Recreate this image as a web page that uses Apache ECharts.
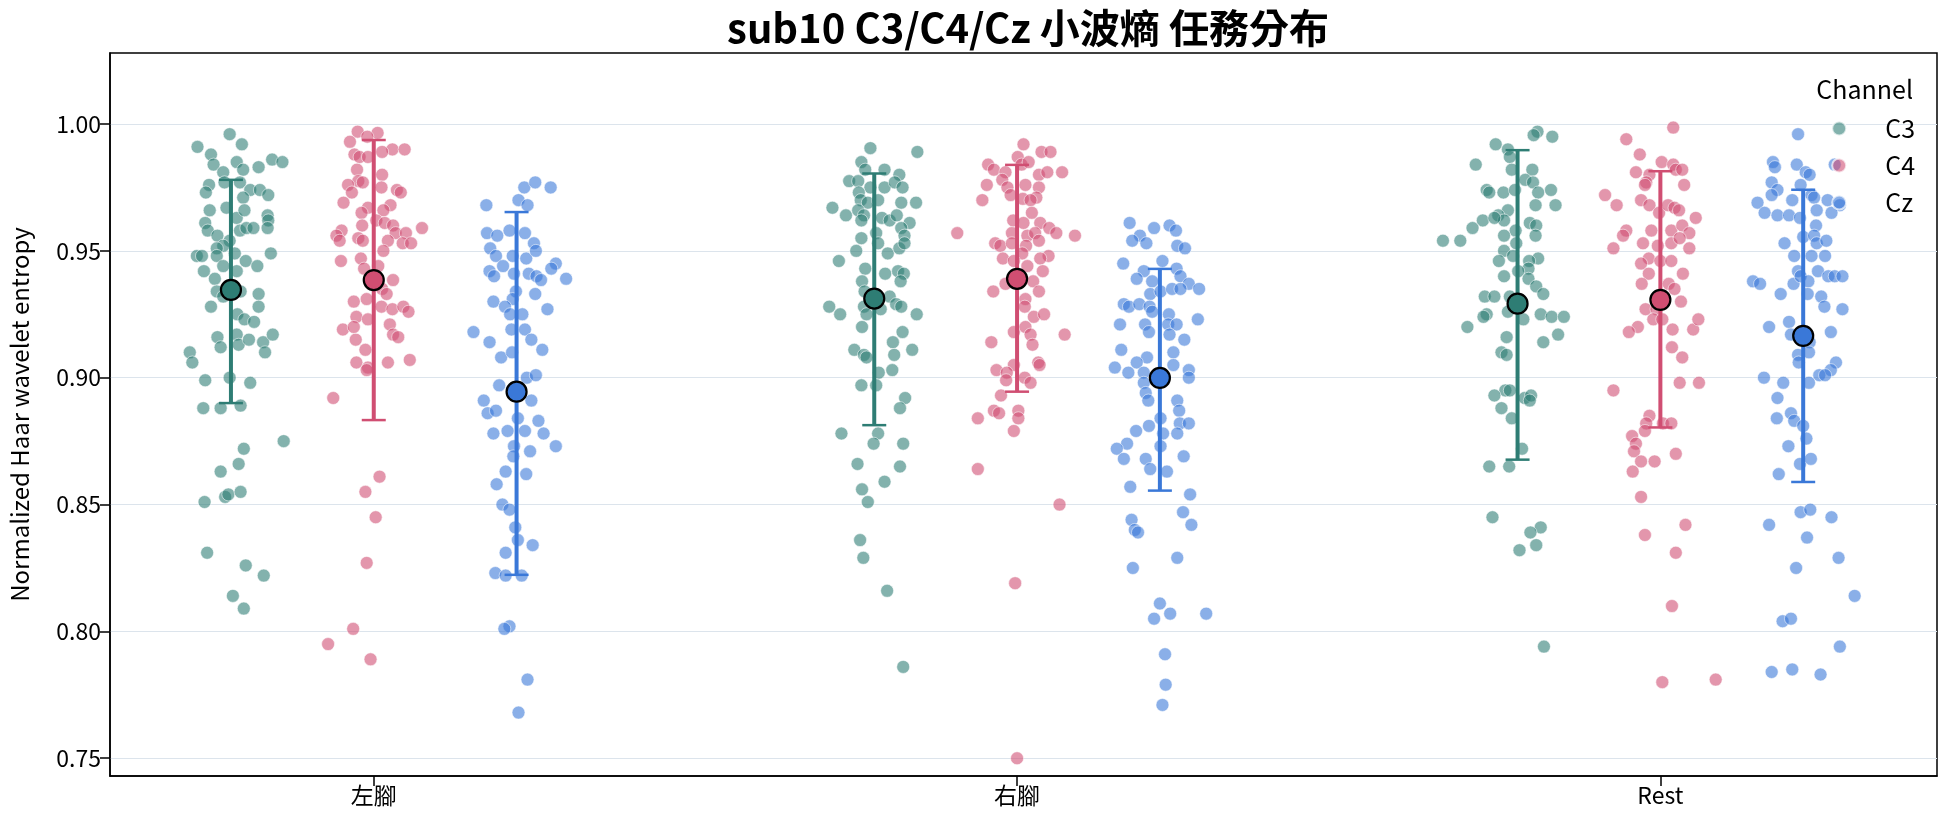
<!DOCTYPE html>
<html>
<head>
<meta charset="utf-8">
<script src="https://cdn.jsdelivr.net/npm/echarts@6/dist/echarts.min.js"></script>
<style>
  html, body { margin: 0; padding: 0; background: #fff; }
  #chart-box { width: 1944px; height: 827px; }
</style>
</head>
<body>
<div id="chart-box"></div>
<script>
const categories = ['左腳', '右腳', 'Rest'];
const channels = ['C3', 'C4', 'Cz'];
const colors = ['#2e7d74', '#d04e72', '#3a78d8'];
const yTicks = [0.75, 0.80, 0.85, 0.90, 0.95, 1.00];

// [jitter, value]
const leftC3 = [[-0.002,0.996],[-0.052,0.991],[0.017,0.992],[-0.031,0.988],[-0.027,0.984],[0.009,0.985],[0.019,0.982],[-0.012,0.981],[0.043,0.983],[0.064,0.986],[0.080,0.985],[-0.034,0.976],[-0.039,0.973],[-0.010,0.977],[0.014,0.977],[0.030,0.974],[0.045,0.974],[0.058,0.972],[0.019,0.971],[-0.033,0.966],[-0.007,0.967],[0.009,0.963],[0.021,0.966],[0.057,0.964],[0.058,0.962],[-0.040,0.961],[-0.036,0.958],[-0.021,0.956],[0.014,0.958],[0.024,0.959],[0.035,0.959],[0.057,0.959],[-0.002,0.954],[-0.012,0.952],[-0.022,0.951],[-0.053,0.948],[-0.045,0.948],[-0.022,0.948],[0.006,0.949],[0.023,0.946],[0.062,0.949],[-0.012,0.944],[-0.042,0.942],[0.009,0.942],[0.041,0.944],[-0.025,0.939],[-0.022,0.934],[-0.012,0.932],[0.015,0.934],[0.043,0.933],[-0.031,0.928],[0.043,0.928],[0.010,0.925],[0.021,0.923],[0.036,0.922],[-0.021,0.916],[-0.016,0.912],[0.009,0.917],[0.012,0.913],[0.028,0.915],[0.050,0.914],[0.065,0.917],[0.053,0.910],[-0.064,0.910],[-0.060,0.906],[-0.040,0.899],[-0.002,0.900],[0.030,0.898],[-0.043,0.888],[-0.016,0.888],[0.015,0.889],[0.082,0.875],[0.020,0.872],[0.012,0.866],[-0.016,0.863],[-0.041,0.851],[-0.009,0.853],[-0.004,0.854],[0.015,0.855],[-0.037,0.831],[0.023,0.826],[0.051,0.822],[0.003,0.814],[0.020,0.809]];
const leftC4 = [[-0.025,0.997],[0.006,0.9965],[-0.037,0.993],[-0.010,0.995],[0.029,0.990],[0.048,0.990],[0.013,0.989],[-0.030,0.988],[-0.022,0.987],[-0.009,0.987],[-0.026,0.982],[0.013,0.980],[-0.024,0.9775],[-0.040,0.976],[-0.017,0.977],[0.012,0.975],[0.036,0.974],[0.042,0.973],[-0.034,0.973],[-0.047,0.969],[-0.009,0.967],[0.026,0.968],[-0.019,0.965],[0.015,0.966],[0.004,0.962],[-0.018,0.960],[0.017,0.961],[0.030,0.960],[-0.050,0.958],[-0.058,0.956],[-0.053,0.954],[-0.024,0.955],[-0.017,0.954],[0.034,0.957],[0.050,0.957],[0.022,0.954],[0.045,0.953],[0.058,0.953],[0.075,0.959],[0.015,0.950],[-0.051,0.946],[-0.020,0.947],[-0.015,0.943],[0.007,0.944],[0.030,0.9385],[0.013,0.935],[0.020,0.933],[-0.031,0.930],[-0.011,0.931],[0.012,0.928],[0.029,0.927],[0.046,0.928],[0.054,0.926],[-0.027,0.924],[-0.009,0.923],[0.025,0.921],[-0.048,0.919],[-0.028,0.915],[-0.031,0.920],[0.030,0.917],[0.038,0.916],[-0.013,0.911],[-0.027,0.906],[-0.009,0.904],[-0.011,0.903],[0.022,0.906],[0.056,0.907],[-0.063,0.892],[0.009,0.861],[-0.013,0.855],[0.003,0.845],[-0.011,0.827],[-0.032,0.801],[-0.071,0.795],[-0.005,0.789]];
const leftCz = [[0.012,0.975],[0.029,0.977],[0.053,0.975],[0.003,0.970],[0.017,0.968],[-0.047,0.968],[-0.046,0.957],[-0.030,0.956],[-0.011,0.958],[0.013,0.957],[0.027,0.953],[-0.041,0.951],[-0.032,0.948],[-0.006,0.948],[0.015,0.947],[0.030,0.950],[0.061,0.945],[0.054,0.943],[0.077,0.939],[-0.042,0.942],[-0.035,0.940],[-0.021,0.944],[-0.004,0.941],[0.019,0.941],[0.031,0.940],[0.038,0.9385],[-0.001,0.934],[0.029,0.933],[-0.006,0.931],[-0.036,0.930],[-0.018,0.928],[-0.010,0.925],[0.009,0.925],[0.048,0.927],[-0.067,0.918],[-0.008,0.919],[0.013,0.919],[0.023,0.915],[-0.042,0.914],[0.040,0.911],[-0.024,0.908],[-0.007,0.910],[0.016,0.900],[0.030,0.901],[-0.027,0.897],[-0.051,0.891],[0.023,0.891],[-0.045,0.886],[-0.032,0.887],[-0.014,0.879],[0.002,0.884],[0.013,0.879],[-0.036,0.878],[0.034,0.883],[0.042,0.878],[0.061,0.873],[-0.004,0.873],[0.021,0.871],[-0.005,0.869],[-0.017,0.863],[0.015,0.862],[-0.031,0.858],[-0.022,0.850],[-0.011,0.848],[-0.002,0.841],[0.002,0.836],[0.025,0.834],[-0.017,0.831],[-0.033,0.823],[-0.017,0.822],[0.008,0.822],[-0.011,0.802],[-0.019,0.801],[0.017,0.781],[0.003,0.768]];
const rightC3 = [[-0.006,0.9905],[0.067,0.989],[-0.020,0.985],[-0.014,0.982],[0.016,0.982],[0.039,0.980],[-0.039,0.9775],[-0.025,0.9775],[-0.006,0.975],[0.016,0.975],[0.032,0.977],[0.044,0.975],[-0.024,0.973],[-0.021,0.970],[-0.010,0.969],[0.006,0.970],[0.042,0.969],[0.065,0.969],[-0.065,0.967],[-0.044,0.964],[-0.025,0.966],[-0.016,0.964],[-0.020,0.962],[0.012,0.963],[0.024,0.962],[0.035,0.964],[0.055,0.961],[0.042,0.959],[0.003,0.957],[-0.020,0.955],[0.047,0.956],[0.006,0.953],[0.021,0.949],[0.039,0.951],[0.047,0.953],[-0.028,0.950],[-0.055,0.946],[-0.014,0.943],[0.017,0.941],[0.037,0.942],[0.046,0.941],[-0.019,0.938],[0.041,0.938],[-0.015,0.934],[0.024,0.932],[0.034,0.929],[0.042,0.928],[-0.070,0.928],[-0.053,0.925],[-0.016,0.928],[0.010,0.927],[-0.012,0.925],[0.066,0.925],[-0.019,0.920],[0.044,0.918],[0.029,0.914],[-0.031,0.911],[-0.016,0.909],[-0.012,0.908],[0.031,0.909],[0.059,0.911],[0.007,0.902],[0.028,0.903],[-0.020,0.897],[0.003,0.897],[0.048,0.892],[0.040,0.888],[-0.051,0.878],[0.006,0.878],[-0.001,0.874],[0.045,0.874],[-0.026,0.866],[0.040,0.865],[0.016,0.859],[-0.019,0.856],[-0.010,0.851],[-0.022,0.836],[-0.017,0.829],[0.020,0.816],[0.045,0.786]];
const rightC4 = [[0.010,0.992],[0.038,0.989],[0.052,0.989],[-0.045,0.984],[-0.036,0.982],[0.001,0.987],[0.007,0.984],[0.018,0.985],[-0.018,0.981],[0.034,0.980],[0.047,0.981],[0.070,0.981],[-0.047,0.976],[-0.023,0.978],[-0.015,0.975],[0.013,0.976],[0.034,0.975],[-0.010,0.972],[0.009,0.9705],[0.030,0.971],[-0.054,0.970],[0.021,0.970],[0.023,0.965],[-0.006,0.962],[0.010,0.961],[0.036,0.961],[0.050,0.959],[-0.093,0.957],[-0.008,0.957],[0.016,0.956],[0.028,0.957],[0.061,0.957],[0.090,0.956],[0.034,0.954],[-0.034,0.953],[-0.026,0.952],[-0.008,0.953],[0.014,0.952],[0.008,0.949],[0.049,0.948],[-0.022,0.947],[-0.005,0.946],[0.016,0.944],[0.036,0.947],[0.040,0.942],[-0.018,0.937],[0.025,0.938],[-0.037,0.934],[0.034,0.934],[0.013,0.931],[0.012,0.928],[0.026,0.924],[0.042,0.925],[-0.005,0.918],[0.013,0.920],[0.021,0.917],[0.074,0.917],[-0.040,0.914],[0.024,0.913],[-0.005,0.905],[0.033,0.906],[0.035,0.905],[-0.032,0.903],[-0.016,0.902],[0.012,0.900],[-0.017,0.899],[0.021,0.898],[-0.025,0.893],[-0.036,0.887],[-0.028,0.886],[0.002,0.887],[-0.061,0.884],[0.002,0.884],[-0.005,0.879],[-0.061,0.864],[0.066,0.850],[-0.003,0.819],[0.000,0.750]];
const rightCz = [[-0.047,0.961],[-0.009,0.959],[0.015,0.960],[0.025,0.958],[-0.031,0.956],[-0.043,0.954],[-0.021,0.953],[0.027,0.952],[0.039,0.951],[-0.057,0.945],[0.004,0.946],[-0.025,0.942],[0.026,0.943],[-0.036,0.939],[-0.012,0.938],[0.032,0.940],[0.045,0.937],[0.061,0.935],[-0.015,0.933],[0.001,0.934],[0.019,0.935],[0.032,0.935],[-0.056,0.929],[-0.048,0.928],[-0.032,0.929],[-0.016,0.928],[-0.012,0.926],[0.014,0.925],[-0.062,0.921],[-0.023,0.921],[-0.017,0.918],[0.013,0.921],[0.026,0.921],[0.059,0.923],[0.015,0.917],[0.038,0.915],[-0.060,0.911],[-0.020,0.908],[0.021,0.910],[-0.036,0.906],[-0.070,0.904],[-0.049,0.902],[-0.025,0.902],[0.021,0.905],[0.045,0.903],[-0.025,0.898],[0.045,0.900],[-0.022,0.894],[-0.018,0.891],[0.027,0.891],[0.030,0.887],[0.001,0.884],[0.031,0.882],[0.045,0.882],[-0.017,0.881],[-0.037,0.879],[0.005,0.878],[0.027,0.878],[-0.051,0.874],[0.001,0.873],[-0.067,0.872],[-0.056,0.868],[-0.022,0.868],[-0.015,0.864],[0.037,0.869],[0.011,0.863],[-0.046,0.857],[0.047,0.854],[0.036,0.847],[0.049,0.842],[-0.044,0.844],[-0.039,0.840],[-0.034,0.839],[0.027,0.829],[-0.042,0.825],[0.000,0.811],[0.016,0.807],[-0.009,0.805],[0.072,0.807],[0.008,0.791],[0.009,0.779],[0.004,0.771]];
const restC3 = [[0.031,0.997],[0.025,0.9956],[0.054,0.995],[-0.034,0.992],[-0.015,0.990],[-0.012,0.987],[-0.065,0.984],[-0.009,0.982],[0.023,0.982],[0.012,0.978],[0.024,0.977],[-0.048,0.974],[-0.044,0.973],[-0.022,0.973],[-0.004,0.974],[0.032,0.973],[0.052,0.974],[0.059,0.968],[0.028,0.968],[-0.015,0.966],[-0.030,0.964],[-0.021,0.962],[-0.054,0.962],[-0.036,0.963],[0.019,0.961],[0.029,0.960],[-0.070,0.959],[-0.003,0.958],[0.028,0.956],[-0.116,0.954],[-0.089,0.954],[-0.021,0.956],[-0.002,0.953],[-0.021,0.950],[-0.007,0.948],[-0.029,0.946],[0.032,0.947],[0.018,0.946],[0.017,0.943],[0.001,0.942],[-0.021,0.940],[0.017,0.939],[0.029,0.936],[0.040,0.933],[-0.051,0.932],[-0.036,0.932],[-0.012,0.932],[-0.048,0.925],[-0.053,0.924],[-0.015,0.926],[0.009,0.923],[0.036,0.925],[0.053,0.924],[0.072,0.924],[-0.078,0.920],[-0.017,0.916],[0.063,0.917],[0.040,0.914],[-0.025,0.910],[-0.017,0.909],[-0.019,0.895],[-0.036,0.893],[-0.012,0.895],[0.011,0.892],[0.021,0.893],[0.019,0.891],[-0.025,0.888],[-0.009,0.884],[0.007,0.872],[-0.044,0.865],[-0.013,0.865],[-0.039,0.845],[0.036,0.841],[0.020,0.839],[0.029,0.834],[0.003,0.832],[0.041,0.794]];
const restC4 = [[0.020,0.9986],[-0.053,0.994],[-0.032,0.988],[0.002,0.985],[0.020,0.984],[-0.038,0.981],[-0.017,0.980],[0.024,0.982],[0.034,0.982],[-0.022,0.977],[-0.024,0.976],[0.037,0.976],[-0.086,0.972],[-0.068,0.968],[-0.030,0.970],[-0.017,0.968],[-0.002,0.965],[0.012,0.968],[0.022,0.967],[0.029,0.966],[0.055,0.963],[-0.053,0.958],[-0.058,0.956],[-0.014,0.958],[0.017,0.958],[0.034,0.960],[0.045,0.957],[-0.073,0.951],[-0.027,0.953],[-0.004,0.952],[0.017,0.953],[0.030,0.955],[0.045,0.951],[-0.018,0.947],[0.000,0.946],[0.017,0.946],[-0.030,0.945],[0.035,0.941],[-0.018,0.941],[-0.029,0.937],[0.013,0.937],[0.022,0.935],[0.032,0.930],[-0.023,0.927],[-0.006,0.927],[-0.011,0.923],[0.003,0.923],[-0.035,0.920],[-0.049,0.918],[0.019,0.919],[0.051,0.919],[0.059,0.923],[0.018,0.912],[0.034,0.908],[-0.073,0.895],[0.030,0.898],[0.060,0.898],[-0.017,0.885],[-0.022,0.882],[-0.024,0.879],[0.004,0.882],[0.017,0.882],[-0.044,0.877],[-0.038,0.874],[-0.041,0.871],[-0.030,0.867],[-0.009,0.867],[0.024,0.870],[-0.043,0.863],[-0.030,0.853],[0.039,0.842],[-0.024,0.838],[0.024,0.831],[0.018,0.810],[0.003,0.780],[0.086,0.781]];
const restCz = [[-0.008,0.996],[-0.047,0.985],[-0.044,0.983],[-0.010,0.984],[0.004,0.981],[0.010,0.980],[0.049,0.984],[-0.049,0.977],[-0.004,0.976],[-0.040,0.974],[-0.049,0.972],[-0.071,0.969],[-0.017,0.970],[0.013,0.972],[0.017,0.971],[0.038,0.970],[0.057,0.968],[-0.060,0.965],[-0.040,0.964],[-0.022,0.964],[-0.005,0.963],[0.021,0.966],[0.044,0.965],[0.020,0.960],[0.000,0.9555],[0.017,0.956],[0.021,0.953],[0.036,0.954],[-0.029,0.953],[-0.014,0.948],[0.013,0.948],[0.034,0.948],[-0.008,0.942],[0.023,0.942],[0.039,0.940],[0.049,0.940],[0.061,0.940],[-0.078,0.938],[-0.067,0.937],[-0.015,0.937],[-0.004,0.940],[0.008,0.938],[-0.035,0.933],[0.007,0.933],[0.028,0.932],[0.033,0.928],[0.061,0.927],[-0.053,0.920],[-0.022,0.922],[-0.019,0.917],[0.043,0.918],[0.010,0.914],[-0.008,0.909],[0.009,0.910],[-0.007,0.906],[0.051,0.906],[0.043,0.903],[0.025,0.901],[0.034,0.901],[-0.061,0.900],[-0.031,0.898],[0.009,0.898],[-0.040,0.892],[-0.041,0.884],[-0.019,0.886],[-0.014,0.883],[0.000,0.881],[0.005,0.876],[-0.023,0.873],[-0.005,0.866],[0.012,0.868],[-0.038,0.862],[-0.004,0.847],[0.011,0.848],[0.044,0.845],[-0.053,0.842],[0.006,0.837],[0.055,0.829],[-0.011,0.825],[0.080,0.814],[-0.032,0.804],[-0.019,0.805],[0.057,0.794],[-0.049,0.784],[-0.017,0.785],[0.027,0.783]];

// mean and error bar ends per channel, one value per category
const meanC3 = [0.9346, 0.9312, 0.9292];
const lowC3 = [0.890, 0.8813, 0.8677];
const highC3 = [0.978, 0.9805, 0.9897];
const meanC4 = [0.9385, 0.939, 0.9307];
const lowC4 = [0.8833, 0.8945, 0.8804];
const highC4 = [0.9937, 0.9839, 0.9814];
const meanCz = [0.8945, 0.8999, 0.9165];
const lowCz = [0.8223, 0.8555, 0.8589];
const highCz = [0.9653, 0.9429, 0.9741];

const pointsByChannel = [
  [leftC3, rightC3, restC3],
  [leftC4, rightC4, restC4],
  [leftCz, rightCz, restCz]
];
const means = [meanC3, meanC4, meanCz];
const lows = [lowC3, lowC4, lowCz];
const highs = [highC3, highC4, highCz];

const dodge = 0.222;
const font = '"Noto Sans CJK TC", "Noto Sans", sans-serif';

function hexAlpha(hex, a) {
  const n = parseInt(hex.slice(1), 16);
  return 'rgba(' + (n >> 16) + ',' + ((n >> 8) & 255) + ',' + (n & 255) + ',' + a + ')';
}

const series = [];
channels.forEach(function (ch, k) {
  const off = (k - 1) * dodge;
  const pts = [];
  pointsByChannel[k].forEach(function (group, i) {
    group.forEach(function (p) { pts.push([i + off + p[0], p[1]]); });
  });
  series.push({
    name: ch,
    type: 'scatter',
    data: pts,
    symbolSize: 13,
    itemStyle: { color: hexAlpha(colors[k], 0.74), borderColor: 'rgba(255,255,255,0.85)', borderWidth: 0.8 },
    z: 2
  });
});
channels.forEach(function (ch, k) {
  const off = (k - 1) * dodge;
  series.push({
    name: ch,
    type: 'custom',
    data: categories.map(function (c, i) { return [i + off, lows[k][i], highs[k][i]]; }),
    renderItem: function (params, api) {
      const x = api.value(0);
      const pLo = api.coord([x, api.value(1)]);
      const pHi = api.coord([x, api.value(2)]);
      const cap = 12;
      return {
        type: 'group',
        children: [
          { type: 'line', shape: { x1: pLo[0], y1: pLo[1], x2: pHi[0], y2: pHi[1] }, style: { stroke: colors[k], lineWidth: 4 } },
          { type: 'line', shape: { x1: pLo[0] - cap, y1: pLo[1], x2: pLo[0] + cap, y2: pLo[1] }, style: { stroke: colors[k], lineWidth: 2.5 } },
          { type: 'line', shape: { x1: pHi[0] - cap, y1: pHi[1], x2: pHi[0] + cap, y2: pHi[1] }, style: { stroke: colors[k], lineWidth: 2.5 } }
        ]
      };
    },
    z: 3
  });
});
channels.forEach(function (ch, k) {
  const off = (k - 1) * dodge;
  series.push({
    name: ch,
    type: 'scatter',
    data: categories.map(function (c, i) { return [i + off, means[k][i]]; }),
    symbolSize: 20,
    itemStyle: { color: colors[k], borderColor: '#000', borderWidth: 2.2, opacity: 1 },
    z: 4
  });
});

const chart = echarts.init(document.getElementById('chart-box'));
chart.setOption({
  animation: false,
  backgroundColor: '#fff',
  textStyle: { fontFamily: font },
  title: [
    {
      text: 'sub10 C3/C4/Cz 小波熵 任務分布',
      left: 1023,
      textAlign: 'center',
      top: 3,
      textStyle: { fontFamily: font, fontSize: 40, fontWeight: 'bold', color: '#000' }
    },
    {
      text: 'Channel',
      right: 26,
      top: 72,
      textStyle: { fontFamily: font, fontSize: 25, fontWeight: 'normal', color: '#000' }
    }
  ],
  legend: {
    data: channels,
    orient: 'vertical',
    right: 24,
    top: 111,
    itemGap: 12,
    icon: 'circle',
    itemWidth: 82,
    itemHeight: 14,
    symbolKeepAspect: true,
    textStyle: { fontFamily: font, fontSize: 25, color: '#000' }
  },
  grid: {
    left: 110, right: 7, top: 53, bottom: 51,
    show: true, borderColor: '#000', borderWidth: 1.5
  },
  xAxis: {
    type: 'value',
    min: -0.41,
    max: 2.43,
    axisLine: { show: true, onZero: false, lineStyle: { color: '#000', width: 1.5 } },
    axisTick: { show: true, customValues: [0, 1, 2], length: 10, lineStyle: { color: '#000', width: 1.5 } },
    axisLabel: {
      customValues: [0, 1, 2],
      formatter: function (v) { return categories[Math.round(v)]; },
      fontFamily: font, fontSize: 23, color: '#000', margin: 8
    },
    splitLine: { show: false }
  },
  yAxis: {
    type: 'value',
    min: 0.743,
    max: 1.028,
    name: 'Normalized Haar wavelet entropy',
    nameLocation: 'middle',
    nameGap: 78,
    nameTextStyle: { fontFamily: font, fontSize: 24, color: '#000' },
    axisLine: { show: true, onZero: false, lineStyle: { color: '#000', width: 1.5 } },
    axisTick: { show: true, customValues: yTicks, length: 10, lineStyle: { color: '#000', width: 1.5 } },
    axisLabel: {
      customValues: yTicks,
      formatter: function (v) { return v.toFixed(2); },
      fontFamily: font, fontSize: 23, color: '#000', margin: 9
    },
    splitLine: { show: true, lineStyle: { color: '#dce4ec', width: 1.2 } }
  },
  series: series
});
</script>
</body>
</html>
